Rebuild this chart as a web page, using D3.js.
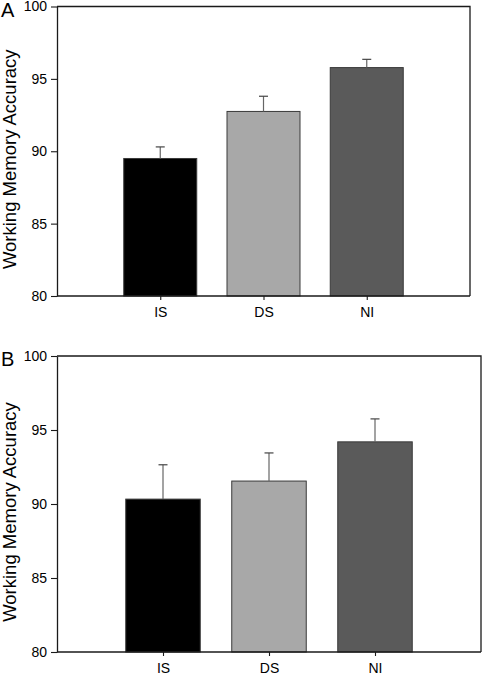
<!DOCTYPE html>
<html>
<head>
<meta charset="utf-8">
<script src="https://cdn.jsdelivr.net/npm/d3@7"></script>
<style>
  html, body { margin: 0; padding: 0; background: #fff; }
  svg { display: block; font-family: "Liberation Sans", Arial, Helvetica, sans-serif; }
</style>
</head>
<body>
<svg id="chart" width="482" height="675"></svg>
<script>
const categories = ["IS", "DS", "NI"];
const colors = ["#000000", "#a8a8a8", "#5a5a5a"];
const panelLabels = ["A", "B"];
const meansA = [89.5, 92.75, 95.78];
const errA = [0.8, 1.05, 0.57];
const meansB = [90.33, 91.55, 94.2];
const errB = [2.32, 1.9, 1.55];
const yTicks = [80, 85, 90, 95, 100];
const yDomain = [80, 100];
const yTitle = "Working Memory Accuracy";

const svg = d3.select("#chart");

const panels = [
  { label: panelLabels[0], means: meansA, errs: errA, left: 57, top: 6.5, right: 470, bottom: 296, barW: 73 },
  { label: panelLabels[1], means: meansB, errs: errB, left: 57, top: 356, right: 481, bottom: 652, barW: 74.5 }
];

panels.forEach(p => {
  const g = svg.append("g");
  const x = d3.scalePoint().domain(categories).range([p.left, p.right]).padding(1);
  const y = d3.scaleLinear().domain(yDomain).range([p.bottom, p.top]);

  // frame top and right
  g.append("path")
    .attr("d", `M${p.left},${p.top}H${p.right}V${p.bottom}`)
    .attr("fill", "none").attr("stroke", "#1a1a1a").attr("stroke-width", 1.3);

  // bars
  g.selectAll("rect.bar").data(categories).enter().append("rect")
    .attr("class", "bar")
    .attr("x", d => x(d) - p.barW / 2)
    .attr("width", p.barW)
    .attr("y", (d, i) => y(p.means[i]))
    .attr("height", (d, i) => y(yDomain[0]) - y(p.means[i]))
    .attr("fill", (d, i) => colors[i])
    .attr("stroke", "#3a3a3a").attr("stroke-width", 1);

  // error bars (upper only)
  const eb = g.selectAll("g.err").data(categories).enter().append("g").attr("class", "err");
  eb.append("line")
    .attr("x1", d => x(d)).attr("x2", d => x(d))
    .attr("y1", (d, i) => y(p.means[i]))
    .attr("y2", (d, i) => y(p.means[i] + p.errs[i]))
    .attr("stroke", "#666").attr("stroke-width", 1.2);
  eb.append("line")
    .attr("x1", d => x(d) - 4.5).attr("x2", d => x(d) + 4.5)
    .attr("y1", (d, i) => y(p.means[i] + p.errs[i]))
    .attr("y2", (d, i) => y(p.means[i] + p.errs[i]))
    .attr("stroke", "#444").attr("stroke-width", 1.2);

  // y axis
  const yAxis = d3.axisLeft(y).tickValues(yTicks).tickSize(6).tickPadding(4).tickSizeOuter(0);
  const ya = g.append("g").attr("transform", `translate(${p.left},0)`).call(yAxis);
  ya.select(".domain").attr("stroke", "#1a1a1a").attr("stroke-width", 1.3);
  ya.selectAll(".tick line").attr("stroke", "#1a1a1a").attr("stroke-width", 1.1);
  ya.selectAll(".tick text").attr("font-size", 14).attr("fill", "#000")
    .attr("font-family", "Liberation Sans, Arial, sans-serif");

  // x axis
  const xAxis = d3.axisBottom(x).tickSize(4).tickPadding(7).tickSizeOuter(0);
  const xa = g.append("g").attr("transform", `translate(0,${p.bottom})`).call(xAxis);
  xa.select(".domain").attr("d", `M${p.left},0H${p.right}`).attr("stroke", "#1a1a1a").attr("stroke-width", 1.3);
  xa.selectAll(".tick line").attr("stroke", "#1a1a1a").attr("stroke-width", 1.1);
  xa.selectAll(".tick text").attr("font-size", 14).attr("fill", "#000")
    .attr("font-family", "Liberation Sans, Arial, sans-serif");

  // y title
  const cy = (p.top + p.bottom) / 2 + 8;
  g.append("text")
    .attr("transform", `translate(15.5,${cy}) rotate(-90)`)
    .attr("text-anchor", "middle")
    .attr("font-size", 18.5).attr("fill", "#000")
    .text(yTitle);

  // panel letter
  g.append("text")
    .attr("x", 1).attr("y", p.top + 10)
    .attr("font-size", 20).attr("fill", "#000")
    .text(p.label);
});
</script>
</body>
</html>
